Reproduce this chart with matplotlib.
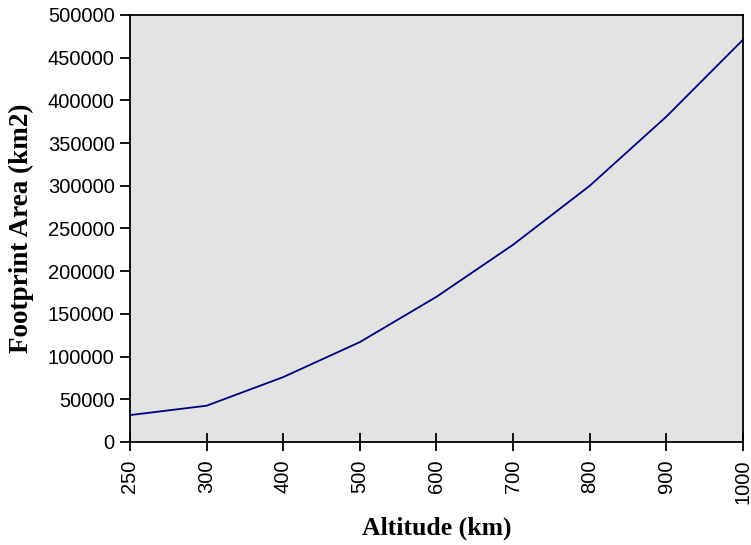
import matplotlib
matplotlib.use("Agg")
import matplotlib.pyplot as plt

altitude = ["250", "300", "400", "500", "600", "700", "800", "900", "1000"]
area = [31500, 42500, 76000, 117000, 170000, 231000, 300000, 381000, 471000]

fig = plt.figure(figsize=(7.51, 5.45), dpi=100)
ax = fig.add_axes([0.1731, 0.189, 0.8162, 0.7835])
ax.set_facecolor("#e3e3e3")

x = list(range(len(altitude)))
ax.plot(x, area, color="#000080", linewidth=1.3)

ax.set_xlim(0, len(altitude) - 1)
ax.set_ylim(0, 500000)
ax.set_xticks(x)
ax.set_xticklabels(altitude, rotation=90, fontsize=14.5, family="Liberation Sans")
ax.set_yticks(range(0, 500001, 50000))
ax.set_yticklabels([str(v) for v in range(0, 500001, 50000)], fontsize=14.5, family="Liberation Sans")
ax.tick_params(axis="x", direction="inout", length=13, width=1.3, pad=6)
ax.tick_params(axis="y", direction="out", length=7, width=1.3, pad=4)
for s in ax.spines.values():
    s.set_linewidth(1.3)

ax.set_xlabel("Altitude (km)", fontsize=18.5, fontweight="bold", family="Liberation Serif")
ax.xaxis.set_label_coords(0.5, -0.175)
ax.set_ylabel("Footprint Area (km2)", fontsize=19.5, fontweight="bold", family="Liberation Serif", labelpad=10)

fig.savefig("out.png", dpi=100)
